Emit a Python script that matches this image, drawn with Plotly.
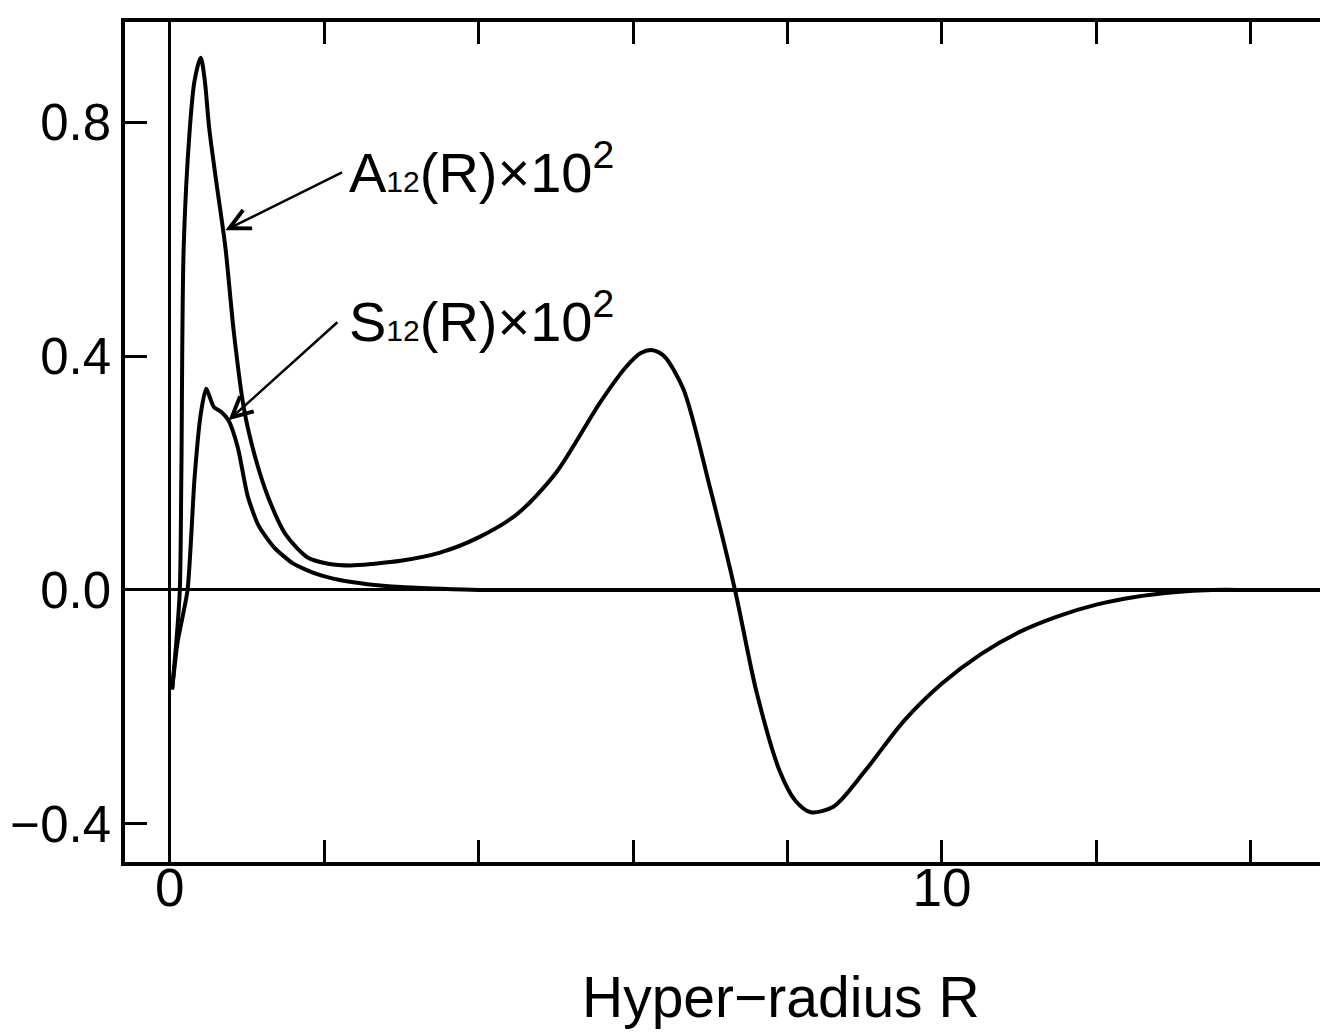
import plotly.graph_objects as go

# ---- data ----
A12_R = [0.03, 0.09, 0.13, 0.15, 0.18, 0.26, 0.32, 0.40, 0.45, 0.51, 0.60, 0.72, 0.83, 0.96,
         1.10, 1.27, 1.50, 1.79, 2.05, 2.34, 2.65, 2.99, 3.50, 4.00, 4.50, 5.00, 5.57, 5.90,
         6.10, 6.25, 6.40, 6.65, 7.00, 7.32, 7.60, 7.90, 8.10, 8.30, 8.60, 9.00, 9.50, 10.0,
         10.5, 11.0, 11.5, 12.0, 12.5, 13.0, 13.5, 14.0, 15.0]
A12_V = [-0.17, -0.08, 0.00, 0.20, 0.586, 0.79, 0.87, 0.91, 0.875, 0.79, 0.70, 0.586, 0.44, 0.31,
         0.23, 0.16, 0.095, 0.055, 0.045, 0.042, 0.045, 0.05, 0.064, 0.09, 0.13, 0.20, 0.32, 0.38,
         0.405, 0.41, 0.40, 0.344, 0.173, 0.0, -0.175, -0.31, -0.36, -0.38, -0.37, -0.31, -0.225, -0.16,
         -0.11, -0.072, -0.045, -0.025, -0.012, -0.004, 0.0, 0.0, 0.0]

S12_R = [0.03, 0.10, 0.23, 0.32, 0.40, 0.47, 0.57, 0.66, 0.76, 0.88, 1.01, 1.15, 1.35, 1.60,
         1.91, 2.20, 2.56, 3.00, 3.50, 4.00, 15.0]
S12_V = [-0.17, -0.09, 0.00, 0.19, 0.30, 0.344, 0.313, 0.305, 0.29, 0.244, 0.16, 0.11, 0.073, 0.045,
         0.027, 0.017, 0.010, 0.005, 0.002, 0.0, 0.0]

X_TICKS = [0, 2, 4, 6, 8, 10, 12, 14]
X_TICKTEXT = ["0", "", "", "", "", "10", "", ""]
Y_TICKS = [-0.4, 0.0, 0.4, 0.8]
Y_TICKTEXT = ["\u22120.4", "0.0", "0.4", "0.8"]

X_RANGE = [-0.58, 15.0]
Y_RANGE = [-0.465, 0.971]

FONT = "Liberation Sans"

fig = go.Figure()
fig.add_trace(go.Scatter(x=A12_R, y=A12_V, mode="lines",
                         line=dict(color="black", width=4, shape="spline", smoothing=0.8),
                         showlegend=False))
fig.add_trace(go.Scatter(x=S12_R, y=S12_V, mode="lines",
                         line=dict(color="black", width=4, shape="spline", smoothing=0.6),
                         showlegend=False))

# page body adds an 8px offset, so the figure is 8px smaller than the window
fig.update_layout(
    width=1320, height=1026,
    margin=dict(l=117, r=0, t=14, b=172, autoexpand=False),
    paper_bgcolor="white", plot_bgcolor="white",
    font=dict(family=FONT, color="black", size=52),
    xaxis=dict(range=X_RANGE, tickvals=X_TICKS, ticktext=X_TICKTEXT, automargin=False,
               ticks="inside", ticklen=22, tickwidth=3, tickcolor="black",
               showline=True, linewidth=4, linecolor="black", mirror="ticks",
               showgrid=False, zeroline=True, zerolinecolor="black", zerolinewidth=2.5,
               tickfont=dict(size=53, family=FONT), ticklabelstandoff=-24),
    yaxis=dict(range=Y_RANGE, tickvals=Y_TICKS, ticktext=Y_TICKTEXT, automargin=False,
               ticks="inside", ticklen=22, tickwidth=3, tickcolor="black",
               showline=True, linewidth=3.5, linecolor="black", mirror=False,
               showgrid=False, zeroline=True, zerolinecolor="black", zerolinewidth=2.5,
               tickfont=dict(size=51, family=FONT), ticklabelstandoff=0),
    yaxis2=dict(range=Y_RANGE, tickvals=Y_TICKS, overlaying="y", side="right", anchor="x",
                automargin=False,
                ticks="inside", ticklen=20, tickwidth=3.5, tickcolor="black",
                showline=False, showticklabels=False, showgrid=False, zeroline=False),
)

# x-axis title
fig.add_annotation(text="Hyper\u2212radius R", xref="paper", yref="paper",
                   x=0.545, y=-0.161, xanchor="center", yanchor="middle",
                   showarrow=False, font=dict(size=57, family=FONT))

# curve labels
fig.add_annotation(text='A<span style="font-size:30px">12</span>(R)\u00d710<sup>2</sup>',
                   xref="x", yref="y", x=2.30, y=0.72, xanchor="left", yanchor="middle",
                   showarrow=False, font=dict(size=56, family=FONT))
fig.add_annotation(text='S<span style="font-size:30px">12</span>(R)\u00d710<sup>2</sup>',
                   xref="x", yref="y", x=2.30, y=0.465, xanchor="left", yanchor="middle",
                   showarrow=False, font=dict(size=56, family=FONT))

# arrows
fig.add_annotation(text="", xref="x", yref="y", x=0.72, y=0.615,
                   axref="x", ayref="y", ax=2.25, ay=0.715,
                   showarrow=True, arrowhead=5, arrowsize=1.6, arrowwidth=2.5, arrowcolor="black")
fig.add_annotation(text="", xref="x", yref="y", x=0.76, y=0.29,
                   axref="x", ayref="y", ax=2.19, ay=0.46,
                   showarrow=True, arrowhead=5, arrowsize=1.6, arrowwidth=2.5, arrowcolor="black")

fig.write_html("out.html")
